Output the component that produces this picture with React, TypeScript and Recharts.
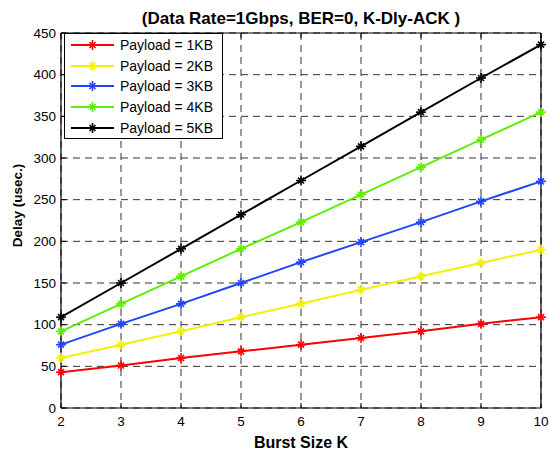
import React from 'react';
import { LineChart, Line, XAxis, YAxis, CartesianGrid } from 'recharts';

const burstSizes = [2, 3, 4, 5, 6, 7, 8, 9, 10];
const payload1KB = [43, 51, 60, 68, 76, 84, 92, 101, 109];
const payload2KB = [60, 76, 92, 109, 125, 142, 158, 174, 190];
const payload3KB = [76, 101, 125, 150, 175, 199, 223, 248, 272];
const payload4KB = [92, 125, 158, 191, 223, 256, 289, 322, 355];
const payload5KB = [109, 150, 191, 232, 273, 314, 355, 396, 436];
const delayTicks = [0, 50, 100, 150, 200, 250, 300, 350, 400, 450];

const series = [
  { key: 'p1', name: 'Payload = 1KB', color: '#ff0000', values: payload1KB },
  { key: 'p2', name: 'Payload = 2KB', color: '#f2f200', values: payload2KB },
  { key: 'p3', name: 'Payload = 3KB', color: '#2244ff', values: payload3KB },
  { key: 'p4', name: 'Payload = 4KB', color: '#5fee00', values: payload4KB },
  { key: 'p5', name: 'Payload = 5KB', color: '#000000', values: payload5KB },
];

const data = burstSizes.map((k, i) => {
  const row: Record<string, number> = { k };
  series.forEach((s) => {
    row[s.key] = s.values[i];
  });
  return row;
});

const FONT = '"Liberation Sans", Arial, Helvetica, sans-serif';

// matlab style '*' marker
const StarMark = ({ cx, cy, color }: { cx: number; cy: number; color: string }) => (
  <g stroke={color} strokeWidth={1.6} fill="none">
    <line x1={cx - 5} y1={cy} x2={cx + 5} y2={cy} />
    <line x1={cx} y1={cy - 5} x2={cx} y2={cy + 5} />
    <line x1={cx - 3} y1={cy - 3} x2={cx + 3} y2={cy + 3} />
    <line x1={cx - 3} y1={cy + 3} x2={cx + 3} y2={cy - 3} />
  </g>
);

const renderDot = (color: string) => (props: any) => {
  if (props.cx == null || props.cy == null) return <g key={props.key} />;
  return <StarMark key={props.key} cx={props.cx} cy={props.cy} color={color} />;
};

const emptyTick = () => <g />;

const App = () => {
  return (
    <div style={{ position: 'absolute', left: 0, top: 0, width: 549, height: 454, background: '#fff', fontFamily: FONT }}>
      <LineChart width={549} height={454} data={data} margin={{ top: 32, right: 7, bottom: 0, left: 0 }}>
        <CartesianGrid xAxisId="b" yAxisId="l" stroke="#333" strokeDasharray="7 5" strokeWidth={1} />
        <XAxis
          xAxisId="b"
          dataKey="k"
          type="number"
          domain={[2, 10]}
          ticks={burstSizes}
          interval={0}
          orientation="bottom"
          height={46}
          tickSize={-5}
          tickMargin={13}
          axisLine={{ stroke: '#000', strokeWidth: 1.2 }}
          tickLine={{ stroke: '#000' }}
          tick={{ fill: '#000', fontSize: 13.5, fontFamily: FONT }}
          label={{ value: 'Burst Size K', position: 'insideBottom', offset: 6, fill: '#000', fontSize: 16, fontWeight: 'bold', fontFamily: FONT }}
        />
        <XAxis
          xAxisId="t"
          dataKey="k"
          type="number"
          domain={[2, 10]}
          ticks={burstSizes}
          interval={0}
          orientation="top"
          height={1}
          tickSize={-5}
          axisLine={{ stroke: '#000', strokeWidth: 1.2 }}
          tickLine={{ stroke: '#000' }}
          tick={emptyTick}
        />
        <YAxis
          yAxisId="l"
          type="number"
          domain={[0, 450]}
          ticks={delayTicks}
          interval={0}
          orientation="left"
          width={61}
          tickSize={-5}
          tickMargin={10}
          axisLine={{ stroke: '#000', strokeWidth: 1.2 }}
          tickLine={{ stroke: '#000' }}
          tick={{ fill: '#000', fontSize: 13.5, fontFamily: FONT }}
          label={{ value: 'Delay (usec.)', angle: -90, position: 'center', dx: -13, dy: -15, fill: '#000', fontSize: 13.5, fontWeight: 'bold', fontFamily: FONT }}
        />
        <YAxis
          yAxisId="r"
          type="number"
          domain={[0, 450]}
          ticks={delayTicks}
          interval={0}
          orientation="right"
          width={1}
          tickSize={-5}
          axisLine={{ stroke: '#000', strokeWidth: 1.2 }}
          tickLine={{ stroke: '#000' }}
          tick={emptyTick}
        />
        {series.map((s) => (
          <Line
            key={s.key}
            xAxisId="b"
            yAxisId="l"
            type="linear"
            dataKey={s.key}
            name={s.name}
            stroke={s.color}
            strokeWidth={2}
            dot={renderDot(s.color)}
            activeDot={false}
            isAnimationActive={false}
          />
        ))}
      </LineChart>

      <div
        style={{
          position: 'absolute',
          left: 0,
          top: 10,
          width: 602,
          textAlign: 'center',
          fontSize: 17,
          lineHeight: '17px',
          fontWeight: 'bold',
          whiteSpace: 'nowrap',
          color: '#000',
        }}
      >
        (Data Rate=1Gbps, BER=0, K-Dly-ACK )
      </div>

      <div
        style={{
          position: 'absolute',
          left: 64,
          top: 33,
          width: 159,
          height: 106,
          boxSizing: 'border-box',
          border: '1px solid #000',
          background: '#fff',
        }}
      >
        {series.map((s, i) => (
          <div
            key={s.key}
            style={{
              position: 'absolute',
              left: 0,
              top: 1 + i * 20.7,
              height: 20,
              display: 'flex',
              alignItems: 'center',
              whiteSpace: 'nowrap',
            }}
          >
            <svg width={55} height={20} style={{ display: 'block' }}>
              <line x1={6} y1={10} x2={49} y2={10} stroke={s.color} strokeWidth={2} />
              <StarMark cx={27.5} cy={10} color={s.color} />
            </svg>
            <span style={{ fontSize: 14, color: '#000', lineHeight: '20px' }}>{s.name}</span>
          </div>
        ))}
      </div>
    </div>
  );
};

export default App;
